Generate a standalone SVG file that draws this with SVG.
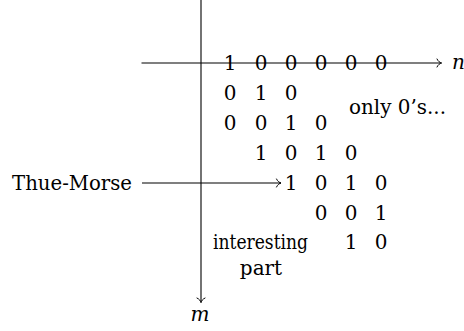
<svg xmlns="http://www.w3.org/2000/svg" width="464" height="331" viewBox="0 0 464 331">
<style>
text{font-family:"DejaVu Serif",serif;font-size:20px;fill:#000}
.d{text-anchor:middle}
.i{font-style:italic}
.ln{stroke:#000;stroke-width:1.1;fill:none}
</style>
<defs>
<marker id="ah" markerUnits="userSpaceOnUse" markerWidth="12" markerHeight="12" viewBox="-6 -6 12 12" refX="0" refY="0" orient="auto">
<path d="M -4.5 -4 C -3.5 -1.6 -1.2 -0.3 0 0 C -1.2 0.3 -3.5 1.6 -4.5 4" fill="none" stroke="#000" stroke-width="1" stroke-linecap="round"/>
</marker>
</defs>
<g id="connectors">
<line class="ln" x1="141.5" y1="63" x2="441.5" y2="63" marker-end="url(#ah)"/>
<line class="ln" x1="201" y1="0" x2="201" y2="302.5" marker-end="url(#ah)"/>
<line class="ln" x1="142" y1="183" x2="281" y2="183" marker-end="url(#ah)"/>
</g>
<g id="label-n"><text class="i" x="452" y="69">n</text></g>
<g id="label-m"><text class="i d" x="200" y="321">m</text></g>
<g id="label-thue-morse"><text x="12" y="190" textLength="120" lengthAdjust="spacingAndGlyphs">Thue-Morse</text></g>
<g id="label-only"><text x="349" y="114" textLength="97" lengthAdjust="spacingAndGlyphs">only 0’s...</text></g>
<g id="label-interesting"><text class="d" x="260.5" y="249" textLength="95" lengthAdjust="spacingAndGlyphs">interesting</text><text class="d" x="261" y="275">part</text></g>
<g id="matrix">
<g id="row1"><text class="d" x="230" y="70">1</text><text class="d" x="261" y="70">0</text><text class="d" x="291" y="70">0</text><text class="d" x="321" y="70">0</text><text class="d" x="351" y="70">0</text><text class="d" x="381" y="70">0</text></g>
<g id="row2"><text class="d" x="230" y="100">0</text><text class="d" x="261" y="100">1</text><text class="d" x="291" y="100">0</text></g>
<g id="row3"><text class="d" x="230" y="130">0</text><text class="d" x="261" y="130">0</text><text class="d" x="291" y="130">1</text><text class="d" x="321" y="130">0</text></g>
<g id="row4"><text class="d" x="261" y="160">1</text><text class="d" x="291" y="160">0</text><text class="d" x="321" y="160">1</text><text class="d" x="351" y="160">0</text></g>
<g id="row5"><text class="d" x="291" y="190">1</text><text class="d" x="321" y="190">0</text><text class="d" x="351" y="190">1</text><text class="d" x="381" y="190">0</text></g>
<g id="row6"><text class="d" x="321" y="220">0</text><text class="d" x="351" y="220">0</text><text class="d" x="381" y="220">1</text></g>
<g id="row7"><text class="d" x="351" y="249">1</text><text class="d" x="381" y="249">0</text></g>
</g>
</svg>
